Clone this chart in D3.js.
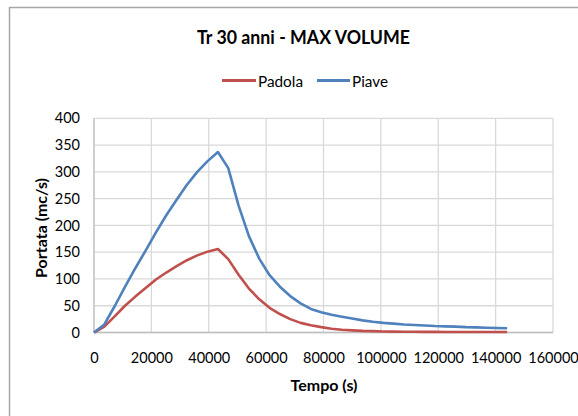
<!DOCTYPE html>
<html><head><meta charset="utf-8">
<script src="https://cdn.jsdelivr.net/npm/d3@7"></script>
<style>body{margin:0;background:#fff;} svg{display:block;}</style>
</head><body>
<svg id="c" width="578" height="416"></svg>
<script>
const title = "Tr 30 anni - MAX VOLUME";
const xLabel = "Tempo (s)";
const yLabel = "Portata (mc/s)";
const seriesNames = ["Padola", "Piave"];
const xTicks = [0,20000,40000,60000,80000,100000,120000,140000,160000];
const yTicks = [0,50,100,150,200,250,300,350,400];
const tempo = [0,3600,7200,10800,14400,18000,21600,25200,28800,32400,36000,39600,43200,
  46800,50400,54000,57600,61200,64800,68400,72000,75600,79200,82800,86400,90000,93600,97200,
  100800,104400,108000,111600,115200,118800,122400,126000,129600,133200,136800,140400,144000];
const padola = [0,11,30,50,67,83,99,112,124,135,144,151,156,
  137,108,82,62,46,34.5,25,18,13.5,10,7,5,4,3,2.5,2,1.7,1.5,1.3,1.2,1.1,1,1,1,1,1,1,1];
const piave = [0,15,49,85,120,153,187,219,248,276,300,320,337,
  307,237,180,138,107,85.5,68,54.5,44,38,33,29.5,26,22.7,20,18,16.5,15,14,13,12,11.5,11,10,9.5,9,8.5,8];
const colors = ["#C0504D", "#4F81BD"];

const svg = d3.select("#c");
const font = "Lato, 'Open Sans', sans-serif";
// chart border
svg.append("rect").attr("x",9.5).attr("y",7.5).attr("width",600).attr("height",500)
  .attr("fill","none").attr("stroke","#A6A6A6").attr("stroke-width",1.5);

const L=94, R=553, T=118.3, B=332.5;
const x = d3.scaleLinear().domain([0,160000]).range([L,R]);
const y = d3.scaleLinear().domain([0,400]).range([B,T]);

// gridlines
const g = svg.append("g");
g.selectAll(".hg").data(yTicks).join("line")
  .attr("x1",L).attr("x2",R).attr("y1",d=>y(d)).attr("y2",d=>y(d))
  .attr("stroke","#D9D9D9").attr("stroke-width",1.3);
g.selectAll(".vg").data(xTicks).join("line")
  .attr("y1",T).attr("y2",B).attr("x1",d=>x(d)).attr("x2",d=>x(d))
  .attr("stroke","#D9D9D9").attr("stroke-width",1.3);
// axis lines
svg.append("line").attr("x1",L).attr("x2",R).attr("y1",B).attr("y2",B).attr("stroke","#BFBFBF").attr("stroke-width",1.5);
svg.append("line").attr("x1",L).attr("x2",L).attr("y1",T).attr("y2",B).attr("stroke","#BFBFBF").attr("stroke-width",1.2);

// axes labels via d3 axes
const xAxis = svg.append("g").attr("transform",`translate(0,${B})`)
  .call(d3.axisBottom(x).tickValues(xTicks).tickFormat(d3.format("d")).tickSize(0).tickPadding(20));
const yAxis = svg.append("g").attr("transform",`translate(${L},0)`)
  .call(d3.axisLeft(y).tickValues(yTicks).tickSize(0).tickPadding(14));
[xAxis,yAxis].forEach(a=>{
  a.select(".domain").remove();
  a.selectAll("text").attr("font-family",font).attr("font-size",14.5).attr("fill","#000");
});

// lines
const line = d3.line().x((d,i)=>x(tempo[i])).y(d=>y(d));
[padola,piave].forEach((s,k)=>{
  svg.append("path").datum(s).attr("d",line).attr("fill","none")
    .attr("stroke",colors[k]).attr("stroke-width",2.6).attr("stroke-linejoin","round");
});

// title
svg.append("text").attr("x",197).attr("y",44)
  .attr("font-family",font).attr("font-weight","bold").attr("font-size",18.5)
  .attr("textLength",213).attr("lengthAdjust","spacingAndGlyphs").text(title);
// legend
const leg = [{x1:222,x2:256,tx:258,w:45},{x1:317,x2:350,tx:352,w:36}];
leg.forEach((l,k)=>{
  svg.append("line").attr("x1",l.x1).attr("x2",l.x2).attr("y1",80.5).attr("y2",80.5)
    .attr("stroke",colors[k]).attr("stroke-width",2.8);
  svg.append("text").attr("x",l.tx).attr("y",86.5).attr("font-family",font)
    .attr("font-size",15.5).attr("textLength",l.w).attr("lengthAdjust","spacingAndGlyphs").text(seriesNames[k]);
});
// axis titles
svg.append("text").attr("x",324).attr("y",391).attr("text-anchor","middle")
  .attr("font-family",font).attr("font-weight","bold").attr("font-size",16).text(xLabel);
svg.append("text").attr("transform","translate(47,228) rotate(-90)").attr("text-anchor","middle")
  .attr("font-family",font).attr("font-weight","bold").attr("font-size",16).text(yLabel);
</script>
</body></html>
